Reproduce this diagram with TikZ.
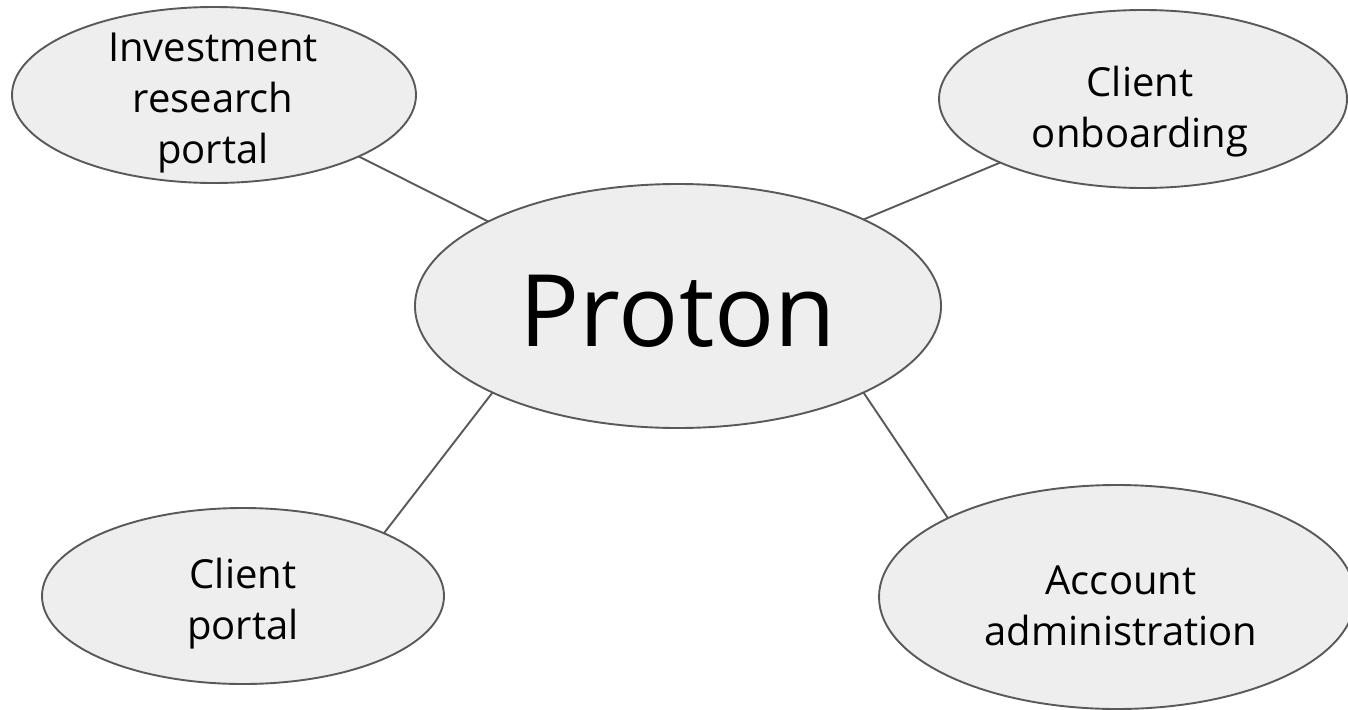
\documentclass[tikz,border=0pt]{standalone}
\usepackage{fontspec}
\setmainfont{Open Sans}
\usetikzlibrary{shapes.geometric}
\definecolor{linegray}{HTML}{595959}
\definecolor{bubblefill}{HTML}{EEEEEE}
\begin{document}
\begin{tikzpicture}[x=1pt,y=-1pt,
  bubble/.style={ellipse, draw=linegray, line width=1.9pt, fill=bubblefill, inner sep=0pt, outer sep=0pt},
  txt/.style={font=\fontsize{40}{51}\selectfont, align=center, text=black, inner sep=0pt},
  bigtxt/.style={font=\fontsize{100}{120}\selectfont, text=black, inner sep=0pt},
  link/.style={draw=linegray, line width=1.9pt}]
\useasboundingbox (0,0) rectangle (1348,709);
\fill[white] (0,0) rectangle (1348,709);
\node[bubble, minimum width=526, minimum height=244] (proton) at (678,306) {};
\node[bubble, minimum width=404, minimum height=176] (irp) at (214,95) {};
\node[bubble, minimum width=408, minimum height=178] (co) at (1143,99) {};
\node[bubble, minimum width=402, minimum height=176] (cp) at (243,596) {};
\node[bubble, minimum width=476, minimum height=224] (aa) at (1117,597) {};
\draw[link] (proton.156) -- (irp.337);
\draw[link] (proton.25) -- (co.204);
\draw[link] (proton.205) -- (cp.24);
\draw[link] (proton.335) -- (aa.155);
\node[bigtxt] (protonT) at (678,311) {Proton};
\node[txt] (irpT) at (213,103) {Investment\\research\\portal};
\node[txt] (coT) at (1140,112) {Client\\onboarding};
\node[txt] (cpT) at (243,604) {Client\\portal};
\node[txt] (aaT) at (1121,606) {Account\\administration};
\end{tikzpicture}
\end{document}
